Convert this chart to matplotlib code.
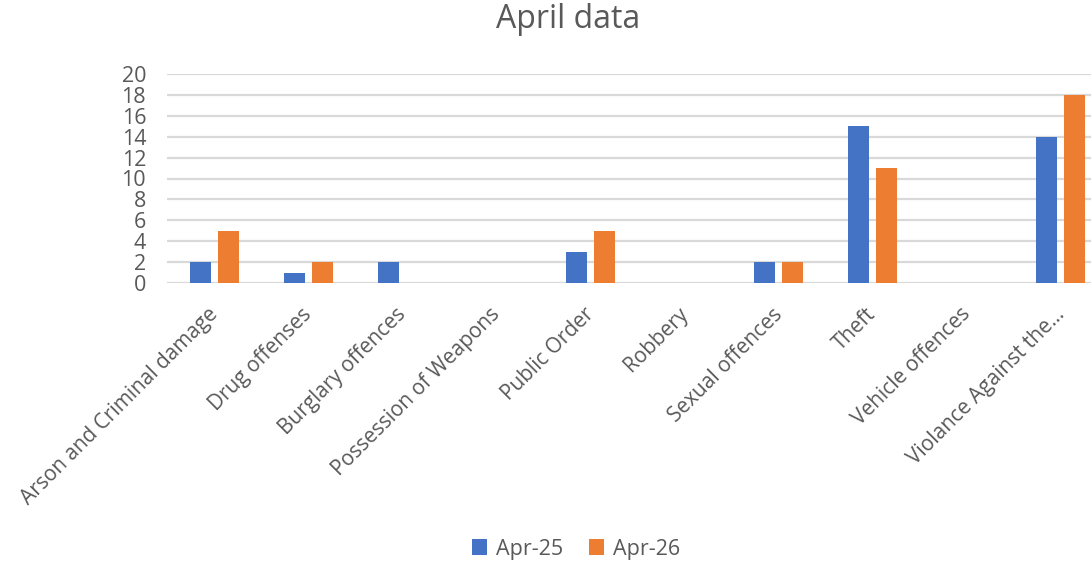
import matplotlib.pyplot as plt
import matplotlib.transforms as mtransforms
import numpy as np

# categories and values
categories = ['Arson and Criminal damage', 'Drug offenses', 'Burglary offences',
              'Possession of Weapons', 'Public Order', 'Robbery', 'Sexual offences',
              'Theft', 'Vehicle offences', 'Violance Against the\u2026']
apr25 = [2, 1, 2, 0, 3, 0, 2, 15, 0, 14]
apr26 = [5, 2, 0, 0, 5, 0, 2, 11, 0, 18]
y_ticks = list(range(0, 21, 2))

plt.rcParams['font.family'] = ['Open Sans', 'DejaVu Sans']
text_col = '#595959'
grid_col = '#D9D9D9'

fig = plt.figure(figsize=(10.91, 5.65), dpi=100)
# plot area runs past the right edge, as in the original screenshot
ax = fig.add_axes([167 / 1091, (565 - 283) / 565, 941 / 1091, 209 / 565])

x = np.arange(len(categories))
bar_w = 0.223
off = 0.149
ax.bar(x - off, apr25, width=bar_w, color='#4472C4', label='Apr-25', zorder=3)
ax.bar(x + off, apr26, width=bar_w, color='#ED7D31', label='Apr-26', zorder=3)

ax.set_xlim(-0.5, len(categories) - 0.5)
ax.set_ylim(0, 20)
ax.set_yticks(y_ticks)
ax.yaxis.grid(True, color=grid_col, linewidth=1.6, zorder=0)
ax.set_axisbelow(True)
for s in ax.spines.values():
    s.set_visible(False)
ax.tick_params(axis='y', length=0, labelsize=15.5, colors=text_col, pad=15)
ax.tick_params(axis='x', length=0, labelsize=15, colors=text_col, pad=15)
ax.set_xticks(x)
ax.set_xticklabels(categories, rotation=45, ha='right', rotation_mode='anchor')
# nudge the slanted labels a little to the left
shift = mtransforms.ScaledTranslation(-7 / 100, 0, fig.dpi_scale_trans)
for lbl in ax.get_xticklabels():
    lbl.set_transform(lbl.get_transform() + shift)

fig.text(568 / 1091, 1 - 20 / 565, 'April data', ha='center', va='center',
         fontsize=23, color=text_col)

fig.legend(loc='center', bbox_to_anchor=(576 / 1091, 1 - 549 / 565), ncol=2,
           frameon=False, fontsize=15.5, labelcolor=text_col, handlelength=0.72,
           handleheight=0.72, handletextpad=0.4, columnspacing=1.2)

fig.savefig('out.png', dpi=100)
